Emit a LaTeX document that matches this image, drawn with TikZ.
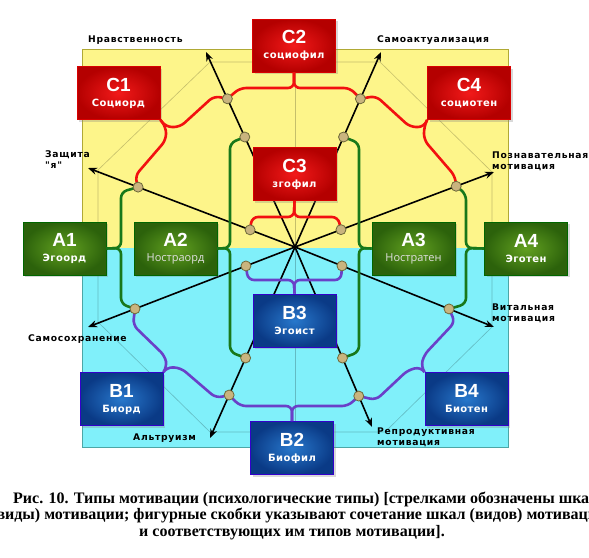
\documentclass[tikz,border=0pt]{standalone}
\usepackage{fontspec}
\setmainfont{Liberation Serif}
\newfontfamily\lblfamily[LetterSpace=8]{DejaVu Sans}
\newfontfamily\titlefamily{Liberation Sans}
\newfontfamily\subfamily[LetterSpace=4]{DejaVu Sans}
\newfontfamily\thinfamily{Open Sans}
\usetikzlibrary{arrows.meta,calc,shadows}
\definecolor{bgYellow}{HTML}{FDF58A}
\definecolor{bgCyan}{HTML}{80F0FA}
\definecolor{redIn}{HTML}{F21A1A}
\definecolor{redOut}{HTML}{B40000}
\definecolor{greenIn}{HTML}{62A020}
\definecolor{greenOut}{HTML}{2C620B}
\definecolor{blueIn}{HTML}{2878CC}
\definecolor{blueOut}{HTML}{0A3A86}
\definecolor{lineRed}{HTML}{F21010}
\definecolor{lineGreen}{HTML}{18781A}
\definecolor{linePurple}{HTML}{6A40C8}
\definecolor{dotFill}{HTML}{C9B47E}
\definecolor{dotEdge}{HTML}{6E6A3A}
\newcommand{\titleFont}{\titlefamily\bfseries\fontsize{19}{20}\selectfont}
\newcommand{\subFont}{\subfamily\bfseries\fontsize{10}{12}\selectfont}
\newcommand{\thinFont}{\thinfamily\fontsize{11}{12}\selectfont\color{white!88!black}}
\newcommand{\typeText}[2]{{\titleFont #1}\\[3pt]{\subFont #2}}
\newcommand{\typeTextThin}[2]{{\titleFont #1}\\[3pt]{\thinFont #2}}

\begin{document}
\begin{tikzpicture}[x=1pt, y=-1pt,
    boxStyle/.style={rectangle, minimum width=83pt, minimum height=53pt, inner sep=0pt, align=center, text=white, line width=0.8pt, shading=radial, drop shadow={opacity=0.3, shadow xshift=2pt, shadow yshift=-2pt}},
    cBox/.style={boxStyle, draw=red!85!black, inner color=redIn, outer color=redOut},
    aBox/.style={boxStyle, draw=green!40!black, inner color=greenIn, outer color=greenOut},
    bBox/.style={boxStyle, draw=blue!60!violet, inner color=blueIn, outer color=blueOut},
    scaleArrow/.style={line width=1.6pt, -{Stealth[length=9pt, width=7pt]}},
    braceRed/.style={draw=lineRed, line width=2.6pt, rounded corners=6pt},
    braceGreen/.style={draw=lineGreen, line width=2.6pt, rounded corners=6pt},
    bracePurple/.style={draw=linePurple, line width=2.6pt, rounded corners=6pt},
    dotStyle/.style={circle, draw=dotEdge, fill=dotFill, line width=0.8pt, minimum size=10pt, inner sep=0pt},
    gridLine/.style={black, opacity=0.22, line width=0.6pt},
    lbl/.style={font=\lblfamily\bfseries\fontsize{9.2}{11}\selectfont, align=left, inner sep=0pt, anchor=west},
    capStyle/.style={font=\bfseries\fontsize{16}{17}\selectfont, inner sep=0pt}]
    \useasboundingbox (0,0) rectangle (589,557);

    \fill[bgYellow] (82,49) rectangle (508,248);
    \fill[bgCyan] (82,248) rectangle (508,447);
    \draw[olive!70, line width=0.6pt] (82,248) -- (82,49) -- (508,49) -- (508,248);
    \draw[teal!70, line width=0.6pt] (82,248) -- (82,447) -- (508,447) -- (508,248);
    \draw[gridLine] (210,62) -- (380,62) -- (492,172) -- (492,327) -- (385,432) -- (210,432) -- (98,322) -- (98,170) -- cycle;
    \draw[gridLine] (295,62) -- (295,432);

    \coordinate (ctr) at (295,247);
    \coordinate (nrEnd) at (206,52);
    \coordinate (saEnd) at (381,52);
    \coordinate (zaEnd) at (88,168);
    \coordinate (poEnd) at (494,172);
    \coordinate (ssEnd) at (88,327);
    \coordinate (viEnd) at (494,327);
    \coordinate (alEnd) at (210,438);
    \coordinate (rpEnd) at (372,427);

    \coordinate (nrOut) at ($(ctr)!0.76!(nrEnd)$);
    \coordinate (nrIn) at ($(ctr)!0.564!(nrEnd)$);
    \coordinate (saOut) at ($(ctr)!0.76!(saEnd)$);
    \coordinate (saIn) at ($(ctr)!0.564!(saEnd)$);
    \coordinate (zaOut) at ($(ctr)!0.758!(zaEnd)$);
    \coordinate (zaIn) at ($(ctr)!0.217!(zaEnd)$);
    \coordinate (poOut) at ($(ctr)!0.81!(poEnd)$);
    \coordinate (poIn) at ($(ctr)!0.231!(poEnd)$);
    \coordinate (ssOut) at ($(ctr)!0.773!(ssEnd)$);
    \coordinate (ssIn) at ($(ctr)!0.237!(ssEnd)$);
    \coordinate (viOut) at ($(ctr)!0.774!(viEnd)$);
    \coordinate (viIn) at ($(ctr)!0.236!(viEnd)$);
    \coordinate (alOut) at ($(ctr)!0.775!(alEnd)$);
    \coordinate (alIn) at ($(ctr)!0.581!(alEnd)$);
    \coordinate (rpOut) at ($(ctr)!0.828!(rpEnd)$);
    \coordinate (rpIn) at ($(ctr)!0.617!(rpEnd)$);

    \draw[scaleArrow] (ctr) -- (nrEnd);
    \draw[scaleArrow] (ctr) -- (saEnd);
    \draw[scaleArrow] (ctr) -- (zaEnd);
    \draw[scaleArrow] (ctr) -- (poEnd);
    \draw[scaleArrow] (ctr) -- (ssEnd);
    \draw[scaleArrow] (ctr) -- (viEnd);
    \draw[scaleArrow] (ctr) -- (alEnd);
    \draw[scaleArrow] (ctr) -- (rpEnd);

    \node[cBox] (c1) at (118.5,93) {\typeText{С1}{Социорд}};
    \node[cBox] (c2) at (294,45.5) {\typeText{С2}{социофил}};
    \node[cBox] (c3) at (294.5,174) {\typeText{С3}{згофил}};
    \node[cBox] (c4) at (469,93) {\typeText{С4}{социотен}};
    \node[aBox] (a1) at (64.5,248.5) {\typeText{А1}{Эгоорд}};
    \node[aBox] (a2) at (175.5,248.5) {\typeTextThin{А2}{Ностраорд}};
    \node[aBox] (a3) at (413.5,248.5) {\typeTextThin{А3}{Ностратен}};
    \node[aBox] (a4) at (526,248.5) {\typeText{А4}{Эготен}};
    \node[bBox] (b1) at (121.5,399) {\typeText{В1}{Биорд}};
    \node[bBox] (b2) at (292,448) {\typeText{В2}{Биофил}};
    \node[bBox] (b3) at (294.5,320.5) {\typeText{В3}{Эгоист}};
    \node[bBox] (b4) at (466.5,399) {\typeText{В4}{Биотен}};

    \draw[braceRed] (zaOut) -- (135,176) -- (166,140) -- (166,127) -- (c1.south east);
    \draw[braceRed] (nrOut) -- (214,96) -- (180,127) -- (166,127) -- (c1.south east);
    \draw[braceRed] (nrOut) -- (240,88) -- (294,88) -- (c2.south);
    \draw[braceRed] (saOut) -- (350,88) -- (294,88) -- (c2.south);
    \draw[braceRed] (saOut) -- (376,96) -- (410,127) -- (424,127) -- (c4.south west);
    \draw[braceRed] (poOut) -- (455,176) -- (424,140) -- (424,127) -- (c4.south west);
    \draw[braceRed] (zaIn) -- (252,217) -- (294,217) -- (c3.south);
    \draw[braceRed] (poIn) -- (338,217) -- (294,217) -- (c3.south);

    \draw[braceGreen] (zaOut) -- (121,192) -- (121,248) -- (a1.east);
    \draw[braceGreen] (ssOut) -- (121,304) -- (121,248) -- (a1.east);
    \draw[braceGreen] (nrIn) -- (230,143) -- (230,248) -- (a2.east);
    \draw[braceGreen] (alIn) -- (230,352) -- (230,248) -- (a2.east);
    \draw[braceGreen] (saIn) -- (359,143) -- (359,248) -- (a3.west);
    \draw[braceGreen] (rpIn) -- (359,352) -- (359,248) -- (a3.west);
    \draw[braceGreen] (poOut) -- (466,194) -- (466,248) -- (a4.west);
    \draw[braceGreen] (viOut) -- (466,304) -- (466,248) -- (a4.west);

    \draw[bracePurple] (ssIn) -- (248,280) -- (294,280) -- (b3.north);
    \draw[bracePurple] (viIn) -- (341,280) -- (294,280) -- (b3.north);
    \draw[bracePurple] (ssOut) -- (133,325) -- (165,356) -- (167,367) -- (b1.north east);
    \draw[bracePurple] (alOut) -- (216,398) -- (181,368) -- (167,367) -- (b1.north east);
    \draw[bracePurple] (alOut) -- (240,406) -- (292,406) -- (b2.north);
    \draw[bracePurple] (rpOut) -- (348,406) -- (292,406) -- (b2.north);
    \draw[bracePurple] (rpOut) -- (376,400) -- (408,370) -- (421,367) -- (b4.north west);
    \draw[bracePurple] (viOut) -- (455,322) -- (424,355) -- (421,367) -- (b4.north west);

    \node[dotStyle] (nrOutDot) at (nrOut) {};
    \node[dotStyle] (nrInDot) at (nrIn) {};
    \node[dotStyle] (saOutDot) at (saOut) {};
    \node[dotStyle] (saInDot) at (saIn) {};
    \node[dotStyle] (zaOutDot) at (zaOut) {};
    \node[dotStyle] (zaInDot) at (zaIn) {};
    \node[dotStyle] (poOutDot) at (poOut) {};
    \node[dotStyle] (poInDot) at (poIn) {};
    \node[dotStyle] (ssOutDot) at (ssOut) {};
    \node[dotStyle] (ssInDot) at (ssIn) {};
    \node[dotStyle] (viOutDot) at (viOut) {};
    \node[dotStyle] (viInDot) at (viIn) {};
    \node[dotStyle] (alOutDot) at (alOut) {};
    \node[dotStyle] (alInDot) at (alIn) {};
    \node[dotStyle] (rpOutDot) at (rpOut) {};
    \node[dotStyle] (rpInDot) at (rpIn) {};

    \node[lbl] (nrLbl) at (88,40) {Нравственность};
    \node[lbl] (saLbl) at (377,40) {Самоактуализация};
    \node[lbl] (zaLbl) at (45,160) {Защита\\"я"};
    \node[lbl] (poLbl) at (492,161) {Познавательная\\мотивация};
    \node[lbl] (ssLbl) at (28,339) {Самосохранение};
    \node[lbl] (viLbl) at (492,313) {Витальная\\мотивация};
    \node[lbl] (alLbl) at (133,438) {Альтруизм};
    \node[lbl] (rpLbl) at (377,437) {Репродуктивная\\мотивация};

    \node[capStyle, anchor=base west] (cap1) at (13,503) {Рис. 10. Типы мотивации (психологические типы) [стрелками обозначены шкалы};
    \node[capStyle, anchor=base west] (cap2) at (-9,519) {(виды) мотивации; фигурные скобки указывают сочетание шкал (видов) мотивации};
    \node[capStyle, anchor=base] (cap3) at (292,536) {и соответствующих им типов мотивации].};
\end{tikzpicture}
\end{document}
